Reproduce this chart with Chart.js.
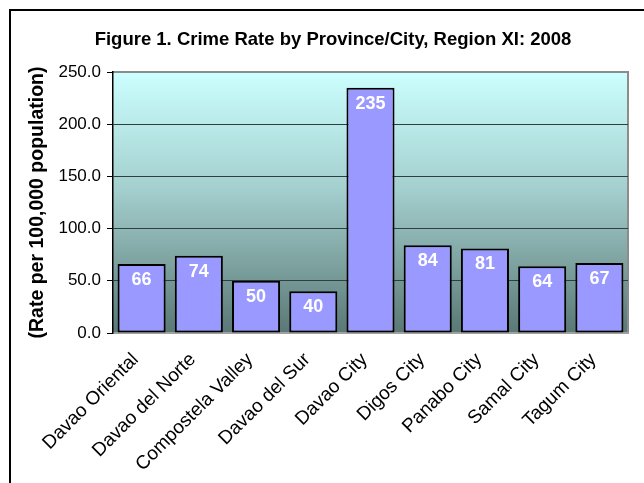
<!DOCTYPE html>
<html>
<head>
<meta charset="utf-8">
<script src="https://cdn.jsdelivr.net/npm/chart.js@4/dist/chart.umd.min.js"></script>
<style>
  html, body { margin: 0; padding: 0; background: #ffffff; }
  #wrap { width: 644px; height: 483px; position: relative; }
</style>
</head>
<body>
<div id="wrap"><canvas id="c" width="644" height="483"></canvas></div>
<script>
const categories = ["Davao Oriental", "Davao del Norte", "Compostela Valley", "Davao del Sur", "Davao City", "Digos City", "Panabo City", "Samal City", "Tagum City"];
const crimeRates = [66, 74, 50, 40, 235, 84, 81, 64, 67];
const yTicks = [0, 50, 100, 150, 200, 250];
const chartTitle = "Figure 1. Crime Rate by Province/City, Region XI: 2008";
const yAxisTitle = "(Rate per 100,000 population)";

const FONT = "'Liberation Sans', Arial, Helvetica, sans-serif";

const framePlugin = {
  id: 'frame',
  beforeDraw(chart) {
    const ctx = chart.ctx;
    const a = chart.chartArea;
    ctx.save();
    ctx.fillStyle = '#ffffff';
    ctx.fillRect(0, 0, chart.width, chart.height);
    ctx.fillStyle = '#000000';
    ctx.fillRect(9, 9, chart.width - 9, 2);
    ctx.fillRect(9, 9, 2, chart.height - 9);
    const g = ctx.createLinearGradient(0, a.top, 0, a.bottom);
    g.addColorStop(0, '#CCFFFF');
    g.addColorStop(0.45, '#A3CFCE');
    g.addColorStop(1, '#5A7875');
    ctx.fillStyle = g;
    ctx.fillRect(a.left, a.top, a.right - a.left, a.bottom - a.top);
    ctx.strokeStyle = '#8C8C8C';
    ctx.lineWidth = 2;
    ctx.beginPath();
    ctx.moveTo(a.left, a.top);
    ctx.lineTo(a.right, a.top);
    ctx.lineTo(a.right, a.bottom);
    ctx.stroke();
    ctx.restore();
  },
  afterLayout(chart) {
    const t = chart.titleBlock;
    if (t) { t.left = 40; t.right = 626; }
  }
};

const valueLabels = {
  id: 'valueLabels',
  afterDatasetsDraw(chart) {
    const ctx = chart.ctx;
    const meta = chart.getDatasetMeta(0);
    const data = chart.data.datasets[0].data;
    ctx.save();
    ctx.fillStyle = '#ffffff';
    ctx.font = 'bold 18px ' + FONT;
    ctx.textAlign = 'center';
    ctx.textBaseline = 'middle';
    meta.data.forEach((bar, i) => {
      ctx.fillText(String(data[i]), bar.x, bar.y + 16);
    });
    ctx.restore();
  }
};

new Chart(document.getElementById('c'), {
  type: 'bar',
  data: {
    labels: categories,
    datasets: [{
      data: crimeRates,
      backgroundColor: '#9999FF',
      borderColor: '#000000',
      borderWidth: 2,
      borderSkipped: false,
      barPercentage: 0.84,
      categoryPercentage: 1.0
    }]
  },
  options: {
    responsive: false,
    animation: false,
    devicePixelRatio: 1,
    layout: { padding: { left: 0, right: 16, top: 0, bottom: 0 } },
    plugins: {
      legend: { display: false },
      tooltip: { enabled: false },
      title: {
        display: true,
        text: chartTitle,
        color: '#000000',
        font: { family: FONT, size: 18.5, weight: 'bold', lineHeight: 1.2 },
        padding: { top: 28.5, bottom: 21.3 }
      }
    },
    scales: {
      x: {
        grid: { display: false },
        border: { display: true, color: '#A0A0A0', width: 2 },
        ticks: {
          color: '#000000',
          font: { family: FONT, size: 19, lineHeight: 0.55 },
          minRotation: 45,
          maxRotation: 45,
          padding: 12,
          labelOffset: -6,
          autoSkip: false
        },
        afterFit(scale) { scale.height = 150; }
      },
      y: {
        min: 0,
        max: 250,
        afterBuildTicks(scale) { scale.ticks = yTicks.map(v => ({ value: v })); },
        ticks: {
          color: '#000000',
          font: { family: FONT, size: 17 },
          padding: 6,
          callback: v => Number(v).toFixed(1)
        },
        grid: {
          color: ctx => (ctx.tick && (ctx.tick.value === 250 || ctx.tick.value === 0)) ? 'rgba(0,0,0,0)' : '#2F3F3F',
          lineWidth: 1,
          drawTicks: true,
          tickLength: 6,
          tickColor: '#000000'
        },
        border: { display: true, color: '#000000', width: 1.5 },
        title: {
          display: true,
          text: yAxisTitle,
          color: '#000000',
          font: { family: FONT, size: 19.5, weight: 'bold' },
          padding: { top: 26, bottom: 0 }
        },
        afterFit(scale) { scale.width = 113; }
      }
    }
  },
  plugins: [framePlugin, valueLabels]
});
</script>
</body>
</html>
